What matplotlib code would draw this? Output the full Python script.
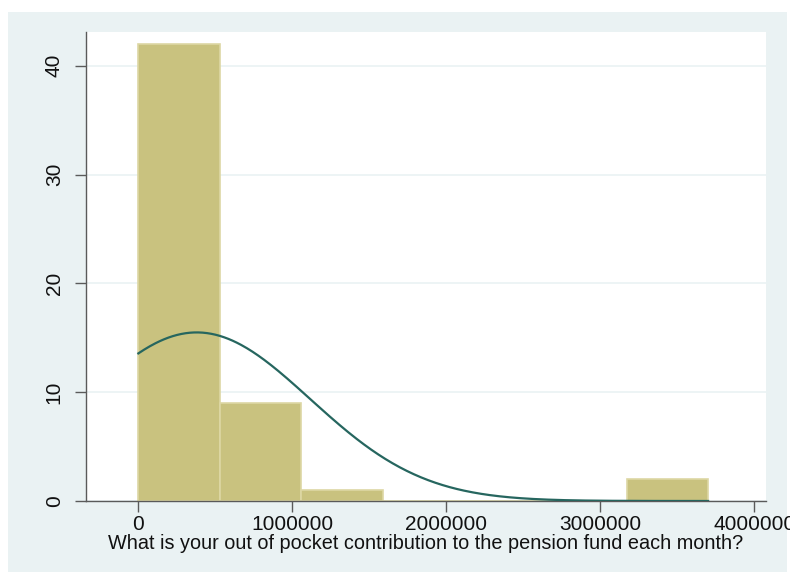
import numpy as np
import matplotlib.pyplot as plt
from matplotlib.patches import Rectangle

plt.rcParams['font.family'] = ['Liberation Sans', 'DejaVu Sans']

# Histogram of monthly contributions: 7 equal bins from 0 to 3.7 million
bin_edges = [0, 528571, 1057143, 1585714, 2114286, 2642857, 3171429, 3700000]
frequencies = [42, 9, 1, 0, 0, 0, 2]

# Normal curve parameters (mean, sd) for the overlay
mean_contrib = 379000
sd_contrib = 735000
n_obs = sum(frequencies)

x_ticks = [0, 1000000, 2000000, 3000000, 4000000]
y_ticks = [0, 10, 20, 30, 40]
x_title = "What is your out of pocket contribution to the pension fund each month?"

W, H = 790, 572
fig = plt.figure(figsize=(W / 100, H / 100), dpi=100, facecolor='white')

# light graph region behind the plot
fig.patches.append(Rectangle((8 / W, 0), (787 - 8) / W, (H - 12) / H,
                             transform=fig.transFigure, facecolor='#eaf2f3',
                             edgecolor='none', zorder=-10))

ax = fig.add_axes([86 / W, (H - 501) / H, (766 - 86) / W, (501 - 32) / H])
ax.set_facecolor('white')

edges = np.array(bin_edges)
widths = np.diff(edges)
ax.bar(edges[:-1], frequencies, width=widths, align='edge',
       color='#c9c27f', edgecolor='#ddd7a4', linewidth=1.2, zorder=2)

# normal density scaled to frequency
bw = widths.mean()
xs = np.linspace(edges[0], edges[-1], 400)
ys = n_obs * bw / (sd_contrib * np.sqrt(2 * np.pi)) * np.exp(-0.5 * ((xs - mean_contrib) / sd_contrib) ** 2)
ax.plot(xs, ys, color='#26665f', linewidth=1.6, zorder=3)

ax.set_xlim(-340000, 4076000)
ax.set_ylim(0, 43.1)
ax.set_xticks(x_ticks)
ax.set_xticklabels([str(t) for t in x_ticks])
ax.set_yticks(y_ticks)
ax.set_yticklabels([str(t) for t in y_ticks], rotation=90, va='center')

ax.grid(axis='y', color='#eaf2f3', linewidth=1.2, zorder=1)
ax.set_axisbelow(True)

for side in ['top', 'right']:
    ax.spines[side].set_visible(False)
for side in ['left', 'bottom']:
    ax.spines[side].set_color('#5a5a5a')
    ax.spines[side].set_linewidth(1.0)

ax.tick_params(axis='both', direction='out', length=8, width=1.0,
               color='#5a5a5a', labelsize=15, labelcolor='#111111')
ax.tick_params(axis='x', pad=2)
ax.tick_params(axis='y', pad=8)

ax.set_xlabel(x_title, fontsize=14.3, color='#111111', labelpad=0)

fig.savefig('out.png', dpi=100)
